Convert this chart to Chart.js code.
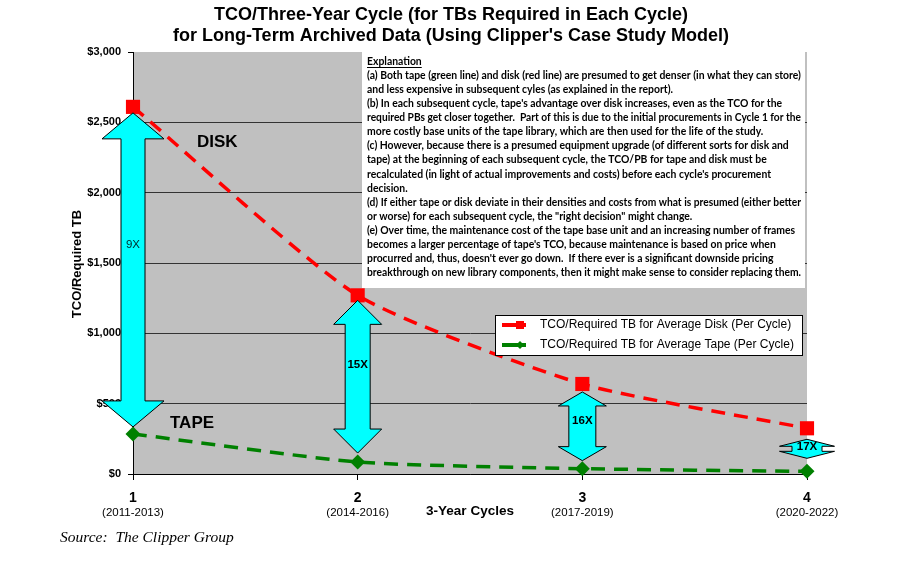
<!DOCTYPE html>
<html lang="en">
<head>
<meta charset="UTF-8">
<title>TCO/Three-Year Cycle</title>
<script src="https://cdn.jsdelivr.net/npm/chart.js"></script>
<style>
    html, body { margin: 0; padding: 0; background: #fff; }
    .wrap { width: 900px; height: 563px; position: relative; }
</style>
</head>
<body>
<div class="wrap"><canvas id="tcoChart"></canvas></div>
<script>
    // data
    const cycles = ['1', '2', '3', '4'];
    const periods = ['(2011-2013)', '(2014-2016)', '(2017-2019)', '(2020-2022)'];
    const diskTco = [2610, 1270, 640, 325];
    const tapeTco = [285, 85, 38, 19];
    const ratioLabels = ['9X', '15X', '16X', '17X'];
    const yTicks = [0, 500, 1000, 1500, 2000, 2500, 3000];

    const explanation = [
        '(a) Both tape (green line) and disk (red line) are presumed to get denser (in what they can store)',
        'and less expensive in subsequent cyles (as explained in the report).',
        '(b) In each subsequent cycle, tape\'s advantage over disk increases, even as the TCO for the',
        'required PBs get closer together.  Part of this is due to the initial procurements in Cycle 1 for the',
        'more costly base units of the tape library, which are then used for the life of the study.',
        '(c) However, because there is a presumed equipment upgrade (of different sorts for disk and',
        'tape) at the beginning of each subsequent cycle, the TCO/PB for tape and disk must be',
        'recalculated (in light of actual improvements and costs) before each cycle\'s procurement',
        'decision.',
        '(d) If either tape or disk deviate in their densities and costs from what is presumed (either better',
        'or worse) for each subsequent cycle, the "right decision" might change.',
        '(e) Over time, the maintenance cost of the tape base unit and an increasing number of frames',
        'becomes a larger percentage of tape\'s TCO, because maintenance is based on price when',
        'procurred and, thus, doesn\'t ever go down.  If there ever is a significant downside pricing',
        'breakthrough on new library components, then it might make sense to consider replacing them.'
    ];

    // arrow shapes (pixels), one per cycle
    const arrowStyle = [
        { shaft: 24, head: 62, headLen: 26, gapTop: 6, gapBot: 7 },
        { shaft: 25, head: 48, headLen: 24, gapTop: 5, gapBot: 9 },
        { shaft: 27, head: 48, headLen: 14, gapTop: 8, gapBot: 8 },
        { shaft: 30, head: 55, headLen: 7, gapTop: 11, gapBot: 13 }
    ];

    const SANS = '"Liberation Sans", Arial, sans-serif';

    function drawArrow(ctx, cx, yTop, yBot, s) {
        const h = s.head / 2, w = s.shaft / 2, hl = s.headLen;
        ctx.beginPath();
        ctx.moveTo(cx, yTop);
        ctx.lineTo(cx + h, yTop + hl);
        ctx.lineTo(cx + w, yTop + hl);
        ctx.lineTo(cx + w, yBot - hl);
        ctx.lineTo(cx + h, yBot - hl);
        ctx.lineTo(cx, yBot);
        ctx.lineTo(cx - h, yBot - hl);
        ctx.lineTo(cx - w, yBot - hl);
        ctx.lineTo(cx - w, yTop + hl);
        ctx.lineTo(cx - h, yTop + hl);
        ctx.closePath();
        ctx.fillStyle = '#00FFFF';
        ctx.fill();
        ctx.lineWidth = 1;
        ctx.strokeStyle = '#000';
        ctx.stroke();
    }

    const decorPlugin = {
        id: 'decor',
        beforeDraw(chart) {
            const { ctx, chartArea: a } = chart;
            ctx.save();
            ctx.fillStyle = '#C0C0C0';
            ctx.fillRect(a.left, a.top, a.right - a.left, a.bottom - a.top);
            ctx.restore();
        },
        beforeDatasetsDraw(chart) {
            const { ctx, chartArea: a } = chart;
            // explanation box
            ctx.save();
            ctx.fillStyle = '#fff';
            ctx.fillRect(362, a.top, 805 - 362, 288 - a.top);
            ctx.fillStyle = '#000';
            ctx.textBaseline = 'middle';
            ctx.font = 'bold 10.4px Lato, "Noto Sans", sans-serif';
            ctx.fillText('Explanation', 367, 62);
            const uw = ctx.measureText('Explanation').width;
            ctx.fillRect(367, 67, uw, 1);
            explanation.forEach((line, i) => {
                ctx.fillText(line, 367, 75.5 + i * 14.1, 434);
            });
            ctx.restore();
        },
        afterDatasetsDraw(chart) {
            const { ctx } = chart;
            const x = chart.scales.x, y = chart.scales.y;
            ctx.save();
            // ratio arrows between disk and tape
            diskTco.forEach((d, i) => {
                const s = arrowStyle[i];
                const cx = x.getPixelForValue(i);
                const yTop = y.getPixelForValue(d) + s.gapTop;
                const yBot = y.getPixelForValue(tapeTco[i]) - s.gapBot;
                drawArrow(ctx, cx, yTop, yBot, s);
                ctx.textAlign = 'center';
                ctx.textBaseline = 'middle';
                ctx.fillStyle = i === 0 ? '#002a2a' : '#000';
                ctx.font = (i === 0 ? '' : 'bold ') + '11.5px ' + SANS;
                ctx.fillText(ratioLabels[i], cx, yTop + 0.42 * (yBot - yTop));
            });

            // DISK / TAPE labels
            ctx.fillStyle = '#000';
            ctx.textAlign = 'left';
            ctx.font = 'bold 17px ' + SANS;
            ctx.fillText('DISK', 197, 142);
            ctx.fillText('TAPE', 170, 423);

            // legend
            ctx.fillStyle = '#fff';
            ctx.fillRect(495, 315, 307, 40);
            ctx.strokeStyle = '#000';
            ctx.lineWidth = 1;
            ctx.strokeRect(495.5, 315.5, 307, 40);
            const entries = [
                { label: 'TCO/Required TB for Average Disk (Per Cycle)', color: '#FF0000', style: 'rect', yy: 325 },
                { label: 'TCO/Required TB for Average Tape (Per Cycle)', color: '#008000', style: 'rectRot', yy: 345 }
            ];
            entries.forEach(e => {
                ctx.strokeStyle = e.color;
                ctx.lineWidth = 4;
                ctx.beginPath();
                ctx.moveTo(502, e.yy);
                ctx.lineTo(526, e.yy);
                ctx.stroke();
                ctx.fillStyle = e.color;
                if (e.style === 'rect') {
                    ctx.fillRect(516, e.yy - 4, 8, 8);
                } else {
                    ctx.beginPath();
                    ctx.moveTo(520, e.yy - 4);
                    ctx.lineTo(524, e.yy);
                    ctx.lineTo(520, e.yy + 4);
                    ctx.lineTo(516, e.yy);
                    ctx.closePath();
                    ctx.fill();
                }
                ctx.fillStyle = '#000';
                ctx.font = '12px ' + SANS;
                ctx.textBaseline = 'middle';
                ctx.fillText(e.label, 540, e.yy, 258);
            });
            ctx.restore();
        },
        afterDraw(chart) {
            const { ctx } = chart;
            const x = chart.scales.x;
            ctx.save();
            ctx.fillStyle = '#000';
            ctx.textAlign = 'center';
            // title
            ctx.textBaseline = 'alphabetic';
            ctx.font = 'bold 18px ' + SANS;
            ctx.fillText('TCO/Three-Year Cycle (for TBs Required in Each Cycle)', 451, 20);
            ctx.fillText('for Long-Term Archived Data (Using Clipper\'s Case Study Model)', 451, 41);
            ctx.textBaseline = 'middle';
            // period labels under cycle numbers
            ctx.font = '11.5px ' + SANS;
            periods.forEach((p, i) => ctx.fillText(p, x.getPixelForValue(i), 513));
            // axis titles
            ctx.font = 'bold 13.5px ' + SANS;
            ctx.fillText('3-Year Cycles', 470, 511);
            ctx.save();
            ctx.translate(77, 264);
            ctx.rotate(-Math.PI / 2);
            ctx.font = 'bold 13px ' + SANS;
            ctx.fillText('TCO/Required TB', 0, 0);
            ctx.restore();
            // source
            ctx.textAlign = 'left';
            ctx.font = 'italic 15.5px "Liberation Serif", "Times New Roman", serif';
            ctx.fillText('Source:  The Clipper Group', 60, 538);
            ctx.restore();
        }
    };

    const ctx = document.getElementById('tcoChart').getContext('2d');
    new Chart(ctx, {
        type: 'line',
        data: {
            labels: cycles,
            datasets: [{
                label: 'TCO/Required TB for Average Disk (Per Cycle)',
                data: diskTco,
                borderColor: '#FF0000',
                borderWidth: 3.5,
                borderDash: [14, 9],
                tension: 0.2,
                pointStyle: 'rect',
                pointRadius: 10,
                pointBackgroundColor: '#FF0000',
                pointBorderWidth: 0,
                clip: false
            }, {
                label: 'TCO/Required TB for Average Tape (Per Cycle)',
                data: tapeTco,
                borderColor: '#008000',
                borderWidth: 3.5,
                borderDash: [14, 9],
                tension: 0.2,
                pointStyle: 'rectRot',
                pointRadius: 7.5,
                pointBackgroundColor: '#008000',
                pointBorderWidth: 0,
                clip: false
            }]
        },
        options: {
            responsive: true,
            maintainAspectRatio: false,
            animation: false,
            layout: { padding: { top: 52, right: 93, bottom: 0, left: 0 } },
            plugins: {
                legend: { display: false },
                title: { display: false },
                tooltip: { enabled: false }
            },
            scales: {
                x: {
                    offset: false,
                    grid: { drawOnChartArea: false, tickLength: 6, tickColor: '#000' },
                    border: { color: '#000', width: 1 },
                    ticks: { color: '#000', font: { family: SANS, size: 14, weight: 'bold' }, padding: 10, maxRotation: 0 },
                    afterFit: s => { s.height = 89; }
                },
                y: {
                    min: 0,
                    max: 3000,
                    afterBuildTicks: s => { s.ticks = yTicks.map(v => ({ value: v })); },
                    grid: {
                        color: c => (c.tick && c.tick.value === 3000) ? 'rgba(0,0,0,0)' : '#333',
                        tickLength: 5,
                        tickColor: '#000'
                    },
                    border: { color: '#000', width: 1 },
                    ticks: {
                        color: '#000',
                        padding: 7,
                        font: { family: SANS, size: 11, weight: 'bold' },
                        callback: v => '$' + Number(v).toLocaleString('en-US')
                    },
                    afterFit: s => { s.width = 133; }
                }
            }
        },
        plugins: [decorPlugin]
    });
</script>
</body>
</html>
